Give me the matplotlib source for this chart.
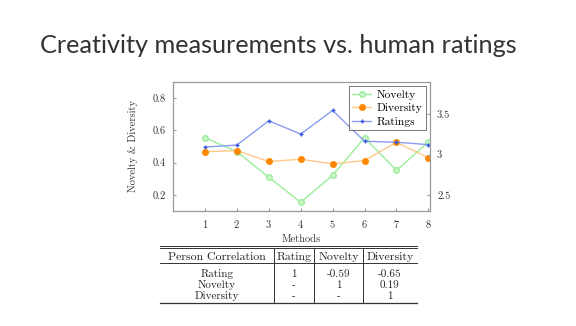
import matplotlib
matplotlib.use("Agg")
import matplotlib.pyplot as plt

methods = [1, 2, 3, 4, 5, 6, 7, 8]
novelty = [0.555, 0.468, 0.309, 0.154, 0.321, 0.555, 0.352, 0.528]
diversity = [0.468, 0.474, 0.407, 0.421, 0.392, 0.413, 0.526, 0.430]
ratings = [3.093, 3.118, 3.419, 3.254, 3.547, 3.165, 3.153, 3.123]

left_ticks = [0.2, 0.4, 0.6, 0.8]
right_ticks = [2.5, 3.0, 3.5]
right_tick_labels = ["2.5", "3", "3.5"]

title = "Creativity measurements vs. human ratings"
table_header = ["Person Correlation", "Rating", "Novelty", "Diversity"]
table_rows = [
    ["Rating", "1", "-0.59", "-0.65"],
    ["Novelty", "-", "1", "0.19"],
    ["Diversity", "-", "-", "1"],
]

plt.rcParams["font.family"] = ["cmr10", "DejaVu Serif"]
plt.rcParams["axes.unicode_minus"] = False
plt.rcParams["axes.formatter.use_mathtext"] = True

W, H = 576, 326
fig = plt.figure(figsize=(W / 100, H / 100), dpi=100)
fig.patch.set_facecolor("white")

fig.text(40 / W, 1 - 53 / H, title, fontsize=18.2, family=["Lato", "DejaVu Sans"],
         fontweight="normal", color="#333333", ha="left", va="baseline")

# main axes: x 173..430, y 82..211
ax = fig.add_axes([173 / W, 1 - 211 / H, (430 - 173) / W, (211 - 82) / H])
ax.set_xlim(0, 8.05)
ax.set_ylim(0.1, 0.9)
gray = "#999999"
for s in ax.spines.values():
    s.set_color(gray)
    s.set_linewidth(0.8)

ln1, = ax.plot(methods, novelty, color="#99ee99", lw=1.0, marker="o", ms=4,
               mfc="#ccf5cc", mec="#99ee99", label="Novelty")
ln2, = ax.plot(methods, diversity, color="#ffc98a", lw=1.0, marker="o", ms=4,
               mfc="#ff8800", mec="#ff8800", label="Diversity")
ax.set_xticks(methods)
ax.set_yticks(left_ticks)
ax.set_yticklabels([f"{v:.1f}" for v in left_ticks])
ax.tick_params(axis="both", labelsize=7.5, length=2, color=gray, colors="#333333",
               direction="in", pad=5)
ax.set_xlabel("Methods", fontsize=7.5, color="#333333", labelpad=3)
ax.set_ylabel("Novelty & Diversity", fontsize=7.5, color="#333333", labelpad=11)

ax2 = ax.twinx()
ax2.set_ylim(2.3, 3.9)
ln3, = ax2.plot(methods, ratings, color="#8a9cf2", lw=1.0, marker="+", ms=3,
                mec="#3355dd", label="Ratings")
ax2.set_yticks(right_ticks)
ax2.set_yticklabels(right_tick_labels)
ax2.tick_params(axis="y", labelsize=7.5, length=2, color=gray, colors="#333333",
                direction="in", pad=5)
for s in ax2.spines.values():
    s.set_color(gray)
    s.set_linewidth(0.8)

leg = ax2.legend(handles=[ln1, ln2, ln3], loc="upper right", fontsize=8.3,
                 frameon=True, fancybox=False, edgecolor="#555555",
                 borderpad=0.3, labelspacing=0.3, handlelength=1.6,
                 handletextpad=0.5, borderaxespad=0.35)
leg.get_frame().set_linewidth(0.7)

# table
col_x = [160, 274, 314, 363, 417]
tax = fig.add_axes([0, 0, 1, 1])
tax.set_xlim(0, W)
tax.set_ylim(H, 0)
tax.axis("off")
lc = "#333333"
tax.plot([col_x[0], col_x[-1]], [245.5, 245.5], color=lc, lw=0.7)
tax.plot([col_x[0], col_x[-1]], [248, 248], color=lc, lw=0.7)
tax.plot([col_x[0], col_x[-1]], [263, 263], color=lc, lw=0.7)
tax.plot([col_x[0], col_x[-1]], [303, 303], color=lc, lw=0.9)
for xv in col_x[1:-1]:
    tax.plot([xv, xv], [248, 303], color=lc, lw=0.7)

centers = [(col_x[i] + col_x[i + 1]) / 2 for i in range(4)]
for i, h in enumerate(table_header):
    tax.text(centers[i], 257, h, fontsize=8.5, ha="center", va="center", color="#222222")
for r, row in enumerate(table_rows):
    yc = 274 + r * 11.2
    for i, v in enumerate(row):
        tax.text(centers[i], yc, v, fontsize=8, ha="center", va="center", color="#222222")

fig.savefig("out.png", dpi=100)
